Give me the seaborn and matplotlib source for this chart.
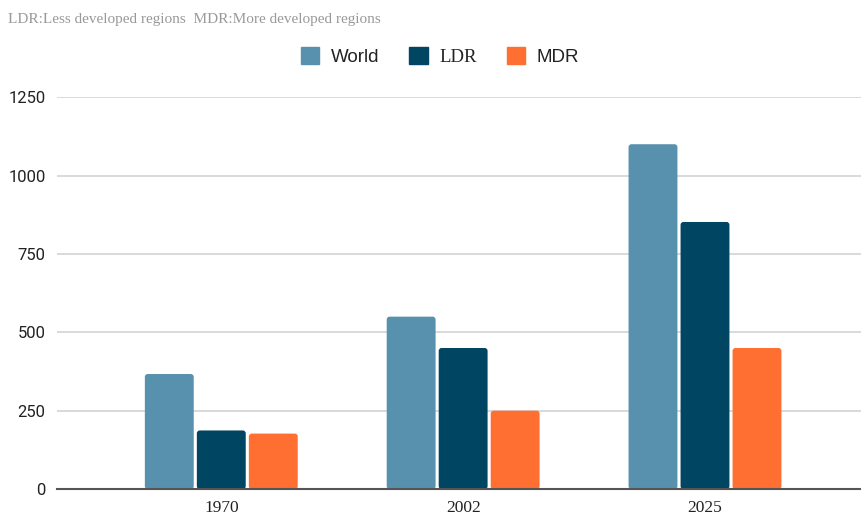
import pandas as pd
import matplotlib.pyplot as plt
import seaborn as sns
from matplotlib.patches import FancyBboxPatch

# Chart data
years = ['1970', '2002', '2025']
world = [367, 550, 1100]
ldr = [187, 450, 852]
mdr = [177, 250, 450]

df = pd.DataFrame({'Year': years, 'World': world, 'LDR': ldr, 'MDR': mdr})
df = df.melt(id_vars='Year', var_name='Region', value_name='Value')

palette = {'World': '#5891ad', 'LDR': '#004561', 'MDR': '#ff6f31'}

sns.set_style('white')
fig = plt.figure(figsize=(8.61, 5.17), dpi=100)
ax = fig.add_axes([0.066, 0.054, 0.934, 0.758])

sns.barplot(data=df, x='Year', y='Value', hue='Region', palette=palette,
            width=0.645, gap=0.06, saturation=1, ax=ax, legend=False)

ax.set_ylim(0, 1250)
ax.set_xlim(-0.68, 2.645)

# swap plain bars for slightly rounded ones
for p in list(ax.patches):
    x, y, w, h = p.get_x(), p.get_y(), p.get_width(), p.get_height()
    fc = p.get_facecolor()
    p.remove()
    ax.add_patch(FancyBboxPatch((x, y), w, h, boxstyle='round,pad=0,rounding_size=0.012',
                                mutation_aspect=780, facecolor=fc, edgecolor='none',
                                zorder=2))

ax.set_yticks([0, 250, 500, 750, 1000, 1250])
ax.yaxis.grid(True, color='#d3d3d3', linewidth=1.2)
ax.set_axisbelow(True)
for s in ['top', 'right', 'left']:
    ax.spines[s].set_visible(False)
ax.spines['bottom'].set_color('#555555')
ax.spines['bottom'].set_linewidth(1.5)
ax.spines['bottom'].set_zorder(3)
ax.tick_params(axis='y', length=0, pad=8)
ax.tick_params(axis='x', length=0, pad=8)
ax.set_xlabel('')
ax.set_ylabel('')
for lbl in ax.get_yticklabels():
    lbl.set_family('Roboto')
    lbl.set_fontsize(12)
    lbl.set_color('#222222')
for lbl in ax.get_xticklabels():
    lbl.set_family('Liberation Serif')
    lbl.set_fontsize(12.5)
    lbl.set_color('#222222')

# subtitle
fig.text(0.009, 0.963, 'LDR:Less developed regions  MDR:More developed regions',
         family='Liberation Serif', fontsize=11, color='#999999', va='center')

# legend
handles = [plt.Rectangle((0, 0), 1, 1, color=palette[k]) for k in ['World', 'LDR', 'MDR']]
leg = fig.legend(handles, ['World', 'LDR', 'MDR'], loc='center', bbox_to_anchor=(0.511, 0.89),
                 ncol=3, frameon=False, fontsize=13.5, handlelength=1.0, handleheight=1.0,
                 columnspacing=1.6, handletextpad=0.6)
for t in leg.get_texts():
    t.set_family('Liberation Sans')
    t.set_color('#222222')
leg.get_texts()[1].set_family('Liberation Serif')

fig.savefig('out.png', dpi=100)
